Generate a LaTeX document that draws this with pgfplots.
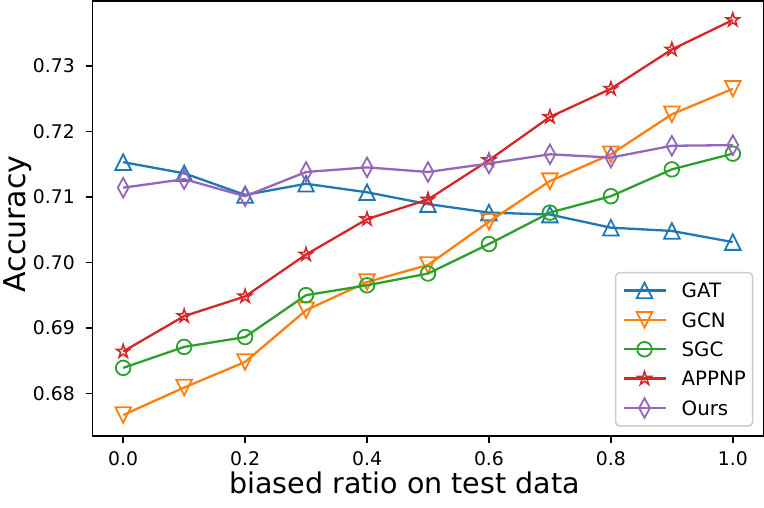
\documentclass[border=0pt]{standalone}
\usepackage{pgfplots}
\pgfplotsset{compat=1.18}
\usepackage{fontspec}
\setmainfont{DejaVu Sans}
\definecolor{c0}{HTML}{1F77B4}
\definecolor{c1}{HTML}{FF7F0E}
\definecolor{c2}{HTML}{2CA02C}
\definecolor{c3}{HTML}{D62728}
\definecolor{c4}{HTML}{9467BD}
\pgfdeclareplotmark{triup}{%
  \pgfpathmoveto{\pgfpoint{0pt}{\pgfplotmarksize}}%
  \pgfpathlineto{\pgfpoint{-\pgfplotmarksize}{-\pgfplotmarksize}}%
  \pgfpathlineto{\pgfpoint{\pgfplotmarksize}{-\pgfplotmarksize}}%
  \pgfpathclose\pgfusepathqstroke}
\pgfdeclareplotmark{tridown}{%
  \pgfpathmoveto{\pgfpoint{0pt}{-\pgfplotmarksize}}%
  \pgfpathlineto{\pgfpoint{-\pgfplotmarksize}{\pgfplotmarksize}}%
  \pgfpathlineto{\pgfpoint{\pgfplotmarksize}{\pgfplotmarksize}}%
  \pgfpathclose\pgfusepathqstroke}
\pgfdeclareplotmark{ostar}{%
  \pgfpathmoveto{\pgfpointpolar{90}{\pgfplotmarksize}}%
  \pgfpathlineto{\pgfpointpolar{126}{0.382\pgfplotmarksize}}%
  \pgfpathlineto{\pgfpointpolar{162}{\pgfplotmarksize}}%
  \pgfpathlineto{\pgfpointpolar{198}{0.382\pgfplotmarksize}}%
  \pgfpathlineto{\pgfpointpolar{234}{\pgfplotmarksize}}%
  \pgfpathlineto{\pgfpointpolar{270}{0.382\pgfplotmarksize}}%
  \pgfpathlineto{\pgfpointpolar{306}{\pgfplotmarksize}}%
  \pgfpathlineto{\pgfpointpolar{342}{0.382\pgfplotmarksize}}%
  \pgfpathlineto{\pgfpointpolar{18}{\pgfplotmarksize}}%
  \pgfpathlineto{\pgfpointpolar{54}{0.382\pgfplotmarksize}}%
  \pgfpathclose\pgfusepathqstroke}
\pgfdeclareplotmark{thindiamond}{%
  \pgfpathmoveto{\pgfpoint{0pt}{\pgfplotmarksize}}%
  \pgfpathlineto{\pgfpoint{0.55\pgfplotmarksize}{0pt}}%
  \pgfpathlineto{\pgfpoint{0pt}{-\pgfplotmarksize}}%
  \pgfpathlineto{\pgfpoint{-0.55\pgfplotmarksize}{0pt}}%
  \pgfpathclose\pgfusepathqstroke}
\begin{document}
\begin{tikzpicture}
\begin{axis}[
  scale only axis, width=670.6pt, height=435pt,
  xmin=-0.05, xmax=1.05, ymin=0.6735, ymax=0.7399,
  xtick={0,0.2,0.4,0.6,0.8,1.0},
  xticklabels={0.0,0.2,0.4,0.6,0.8,1.0},
  ytick={0.68,0.69,0.70,0.71,0.72,0.73},
  yticklabels={0.68,0.69,0.70,0.71,0.72,0.73},
  tick align=outside, major tick length=7pt,
  xtick pos=left, ytick pos=left,
  every tick/.style={black, line width=1.5pt},
  axis line style={line width=1.5pt},
  ticklabel style={font=\fontsize{18.8}{22}\selectfont},
  xticklabel style={inner sep=0pt, yshift=-8.7pt},
  yticklabel style={inner sep=0pt, xshift=-10.7pt},
  xlabel={biased ratio on test data},
  ylabel={Accuracy},
  xlabel style={at={(axis description cs:0.46496,-0.13333)}, anchor=base, inner sep=0pt, font=\fontsize{28.5}{34}\selectfont},
  ylabel style={at={(axis description cs:-0.13376,0.48736)}, rotate=0, anchor=north, inner sep=0pt, font=\fontsize{30}{36}\selectfont},
  clip mode=individual,
  legend style={at={(axis description cs:1,0)}, anchor=south east, xshift=-10pt, yshift=9.3pt,
    draw=black!20, line width=1.5pt, rounded corners=4pt, fill=white,
    font=\fontsize{19.8}{23}\selectfont, inner xsep=6.7pt, inner ysep=3.2pt,
    row sep=0pt, column sep=0pt,
    nodes={inner sep=0pt, text height=14.4pt, text depth=0pt, minimum height=29.4pt}},
  legend cell align=left,
  legend image code/.code={\draw[mark repeat=2,mark phase=2] plot coordinates {(0pt,0pt)(21pt,0pt)(42pt,0pt)};
    \path (57pt,0pt);},
  every axis plot/.append style={line width=2.3pt},
]
\addplot[c0, mark=triup, mark size=7.8pt, mark options={line width=1.8pt, solid}] coordinates {
(0.0,0.7153)(0.1,0.7136)(0.2,0.7103)(0.3,0.7120)(0.4,0.7107)(0.5,0.7089)(0.6,0.7076)(0.7,0.7073)(0.8,0.7053)(0.9,0.7048)(1.0,0.7031)};
\addlegendentry{GAT}
\addplot[c1, mark=tridown, mark size=7.8pt, mark options={line width=1.8pt, solid}] coordinates {
(0.0,0.6767)(0.1,0.6809)(0.2,0.6848)(0.3,0.6927)(0.4,0.6970)(0.5,0.6996)(0.6,0.7062)(0.7,0.7124)(0.8,0.7165)(0.9,0.7226)(1.0,0.7265)};
\addlegendentry{GCN}
\addplot[c2, mark=o, mark size=7.3pt, mark options={line width=1.8pt, solid}] coordinates {
(0.0,0.6839)(0.1,0.6871)(0.2,0.6886)(0.3,0.6950)(0.4,0.6965)(0.5,0.6983)(0.6,0.7028)(0.7,0.7076)(0.8,0.7101)(0.9,0.7142)(1.0,0.7166)};
\addlegendentry{SGC}
\addplot[c3, mark=ostar, mark size=7pt, mark options={line width=1.6pt, solid}] coordinates {
(0.0,0.6864)(0.1,0.6918)(0.2,0.6948)(0.3,0.7012)(0.4,0.7066)(0.5,0.7096)(0.6,0.7156)(0.7,0.7222)(0.8,0.7265)(0.9,0.7325)(1.0,0.7370)};
\addlegendentry{APPNP}
\addplot[c4, mark=thindiamond, mark size=9.8pt, mark options={line width=1.8pt, solid}] coordinates {
(0.0,0.7114)(0.1,0.7127)(0.2,0.7101)(0.3,0.7138)(0.4,0.7145)(0.5,0.7138)(0.6,0.7151)(0.7,0.7165)(0.8,0.7160)(0.9,0.7178)(1.0,0.7179)};
\addlegendentry{Ours}
\end{axis}
\pgfresetboundingbox
\path[use as bounding box] (-92.7pt,-72pt) rectangle (671.3pt,436pt);
\end{tikzpicture}
\end{document}
